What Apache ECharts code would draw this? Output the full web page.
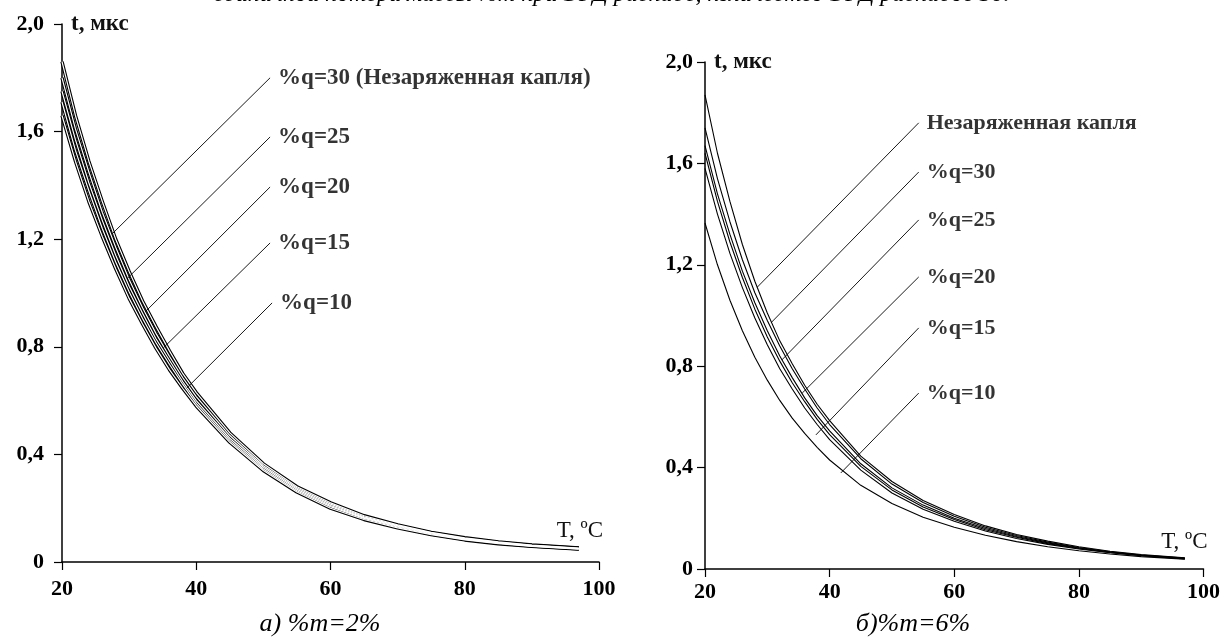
<!DOCTYPE html>
<html>
<head>
<meta charset="utf-8">
<script src="https://cdn.jsdelivr.net/npm/echarts@6/dist/echarts.min.js"></script>
<style>
  html, body { margin: 0; padding: 0; background: #fff; }
  #chart { width: 1223px; height: 637px; }
</style>
</head>
<body>
<div id="chart"></div>
<script>
const serif = "'Liberation Serif', 'DejaVu Serif', serif"

// a) %m=2%
const tempLeft = [20, 22, 24, 26, 28, 30, 32, 34, 36, 38, 40, 45, 50, 55, 60, 65, 70, 75, 80, 85, 90, 97]
const leftQ30 = [1.86, 1.66, 1.49, 1.34, 1.20, 1.08, 0.97, 0.875, 0.785, 0.70, 0.63, 0.48, 0.365, 0.28, 0.22, 0.172, 0.138, 0.11, 0.09, 0.075, 0.063, 0.052]
const leftQ25 = [1.80, 1.61, 1.45, 1.30, 1.17, 1.05, 0.945, 0.85, 0.765, 0.685, 0.615, 0.47, 0.358, 0.275, 0.215, 0.168, 0.135, 0.108, 0.088, 0.073, 0.062, 0.051]
const leftQ20 = [1.75, 1.57, 1.41, 1.27, 1.14, 1.025, 0.925, 0.83, 0.75, 0.67, 0.60, 0.46, 0.352, 0.27, 0.21, 0.165, 0.133, 0.106, 0.086, 0.071, 0.060, 0.050]
const leftQ15 = [1.71, 1.53, 1.38, 1.24, 1.115, 1.005, 0.905, 0.815, 0.735, 0.66, 0.59, 0.452, 0.346, 0.265, 0.206, 0.162, 0.130, 0.104, 0.084, 0.070, 0.059, 0.049]
const leftQ10 = [1.66, 1.49, 1.34, 1.21, 1.09, 0.98, 0.885, 0.795, 0.715, 0.645, 0.58, 0.445, 0.34, 0.26, 0.20, 0.158, 0.127, 0.102, 0.082, 0.068, 0.058, 0.048]

// б) %m=6%
const tempRight = [20, 22, 24, 26, 28, 30, 32, 34, 36, 38, 40, 45, 50, 55, 60, 65, 70, 75, 80, 85, 90, 97]
const rightNeutral = [1.87, 1.64, 1.45, 1.28, 1.135, 1.01, 0.90, 0.81, 0.725, 0.65, 0.585, 0.445, 0.345, 0.27, 0.215, 0.17, 0.136, 0.11, 0.088, 0.07, 0.057, 0.044]
const rightQ30 = [1.74, 1.54, 1.37, 1.22, 1.09, 0.98, 0.88, 0.79, 0.71, 0.635, 0.57, 0.435, 0.335, 0.262, 0.208, 0.165, 0.132, 0.106, 0.085, 0.068, 0.055, 0.043]
const rightQ25 = [1.67, 1.48, 1.32, 1.175, 1.05, 0.94, 0.84, 0.755, 0.675, 0.605, 0.545, 0.415, 0.32, 0.252, 0.20, 0.16, 0.128, 0.103, 0.083, 0.067, 0.054, 0.042]
const rightQ20 = [1.64, 1.45, 1.29, 1.15, 1.025, 0.915, 0.82, 0.735, 0.66, 0.59, 0.53, 0.405, 0.312, 0.245, 0.195, 0.155, 0.125, 0.10, 0.081, 0.065, 0.053, 0.041]
const rightQ15 = [1.58, 1.40, 1.245, 1.11, 0.99, 0.885, 0.79, 0.71, 0.635, 0.57, 0.51, 0.39, 0.30, 0.236, 0.188, 0.15, 0.12, 0.097, 0.079, 0.064, 0.052, 0.040]
const rightQ10 = [1.365, 1.20, 1.06, 0.94, 0.835, 0.745, 0.665, 0.595, 0.535, 0.48, 0.43, 0.33, 0.258, 0.204, 0.165, 0.133, 0.108, 0.088, 0.072, 0.059, 0.049, 0.039]

// leader lines: point on curve -> label anchor (data units)
const leftLeaderFrom = [[27.6, 1.223], [29.8, 1.056], [32.4, 0.93], [35.1, 0.796], [38.6, 0.647]]
const leftLeaderTo = [[51.0, 1.80], [51.0, 1.58], [51.0, 1.394], [51.0, 1.186], [51.3, 0.963]]
const leftLabels = ['%q=30 (Незаряженная капля)', '%q=25', '%q=20', '%q=15', '%q=10']

const rightLeaderFrom = [[28.4, 1.112], [30.7, 0.974], [32.3, 0.824], [35.6, 0.694], [37.8, 0.529], [41.8, 0.379]]
const rightLeaderTo = [[54.3, 1.76], [54.3, 1.566], [54.3, 1.377], [54.3, 1.152], [54.3, 0.951], [54.3, 0.694]]
const rightLabels = ['Незаряженная капля', '%q=30', '%q=25', '%q=20', '%q=15', '%q=10']

const yTickFmt = v => (v === 0 ? '0' : v.toFixed(1).replace('.', ','))

function zip(xs, ys) {
  return xs.map((x, i) => [x, ys[i]])
}

function xAxisFor(gridIndex, labelMargin, namePad) {
  return {
    type: 'value', gridIndex, min: 20, max: 100, interval: 20,
    name: 'T, ºC', nameLocation: 'end', nameGap: 4,
    nameTextStyle: { fontFamily: serif, fontSize: 23, color: '#111', align: 'right', verticalAlign: 'bottom', padding: [0, 0, namePad, 0] },
    axisLine: { lineStyle: { color: '#000', width: 1.5 } },
    axisTick: { length: 8, lineStyle: { color: '#000', width: 1.2 } },
    axisLabel: { margin: labelMargin, fontFamily: serif, fontSize: 22, fontWeight: 'bold', color: '#000' },
    splitLine: { show: false }
  }
}

function yAxisFor(gridIndex, labelMargin) {
  return {
    type: 'value', gridIndex, min: 0, max: 2, interval: 0.4,
    name: 't, мкс', nameLocation: 'end', nameGap: 0,
    nameTextStyle: { fontFamily: serif, fontSize: 23, fontWeight: 'bold', color: '#111', align: 'left', verticalAlign: 'middle', padding: [0, 0, 0, 9] },
    axisLine: { lineStyle: { color: '#000', width: 1.5 } },
    axisTick: { length: 8, lineStyle: { color: '#000', width: 1.2 } },
    axisLabel: { margin: labelMargin, fontFamily: serif, fontSize: 22, fontWeight: 'bold', color: '#000', formatter: yTickFmt },
    splitLine: { show: false }
  }
}

function curve(axis, data, width, color) {
  return {
    type: 'line', xAxisIndex: axis, yAxisIndex: axis, data,
    smooth: false, showSymbol: false, silent: true,
    lineStyle: { color, width, join: 'round' }, z: 2
  }
}

function leaders(axis, from, to, texts, size) {
  const out = from.map((p, i) => ({
    type: 'line', xAxisIndex: axis, yAxisIndex: axis, data: [p, to[i]],
    showSymbol: false, silent: true, lineStyle: { color: '#000', width: 0.9 }, z: 3
  }))
  out.push({
    type: 'scatter', xAxisIndex: axis, yAxisIndex: axis, data: to, symbolSize: 0, silent: true,
    label: {
      show: true, position: 'right', distance: 8,
      fontFamily: serif, fontSize: size, fontWeight: 'bold', color: '#000',
      formatter: p => texts[p.dataIndex]
    }, z: 4
  })
  return out
}

const leftSets = [leftQ30, leftQ25, leftQ20, leftQ15, leftQ10]
const rightSets = [rightNeutral, rightQ30, rightQ25, rightQ20, rightQ15, rightQ10]

const series = []
// left curves look like hollow tubes: dark outline with a white core
leftSets.forEach(s => series.push(curve(0, zip(tempLeft, s), 3.4, '#000')))
leftSets.forEach(s => series.push(curve(0, zip(tempLeft, s), 1.2, '#fff')))
rightSets.forEach(s => series.push(curve(1, zip(tempRight, s), 1.1, '#000')))
series.push(...leaders(0, leftLeaderFrom, leftLeaderTo, leftLabels, 23))
series.push(...leaders(1, rightLeaderFrom, rightLeaderTo, rightLabels, 22))

const chart = echarts.init(document.getElementById('chart'))
chart.setOption({
  backgroundColor: '#fff',
  animation: false,
  grid: [
    { left: 62, top: 24, width: 537, height: 538 },
    { left: 705, top: 62, width: 502, height: 507 }
  ],
  xAxis: [xAxisFor(0, 16, 20), xAxisFor(1, 12, 16)],
  yAxis: [yAxisFor(0, 18), yAxisFor(1, 12)],
  graphic: [
    {
      type: 'text', left: 'center', top: -17,
      style: { text: 'единичной потери массы %m при ЭГД распаде, количество ЭГД распадов 30.', font: 'italic 24px ' + serif, fill: '#000' }
    },
    {
      type: 'text', x: 320, y: 624,
      style: { text: 'а) %m=2%', font: 'italic 26px ' + serif, fill: '#000', align: 'center', verticalAlign: 'middle' }
    },
    {
      type: 'text', x: 913, y: 624,
      style: { text: 'б)%m=6%', font: 'italic 26px ' + serif, fill: '#000', align: 'center', verticalAlign: 'middle' }
    }
  ],
  series
})
</script>
</body>
</html>
